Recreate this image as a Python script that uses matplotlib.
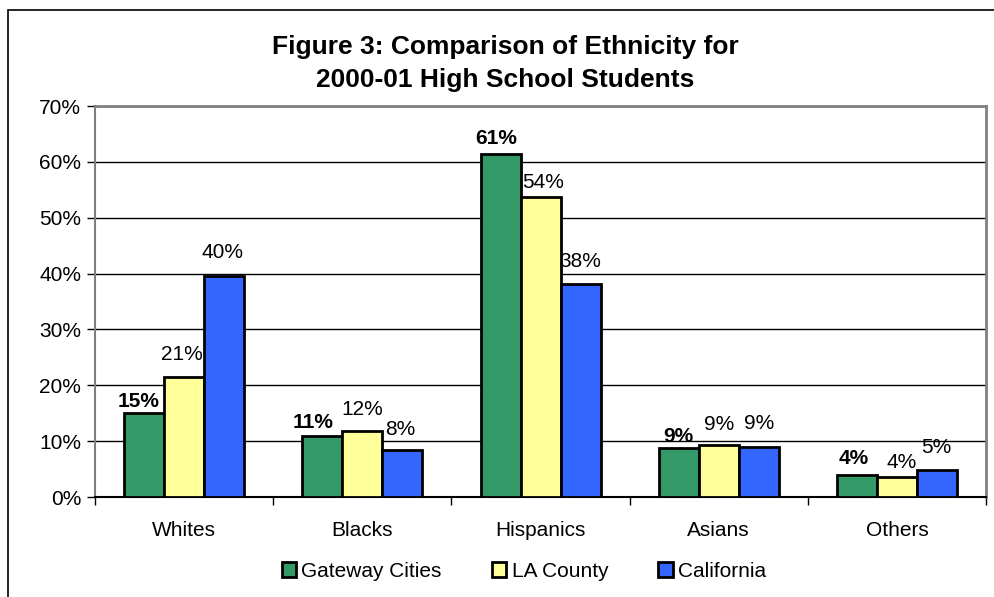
import matplotlib.pyplot as plt
import numpy as np
from matplotlib.patches import Rectangle

plt.rcParams['font.family'] = ['Liberation Sans', 'DejaVu Sans']

# data
groups = ['Whites', 'Blacks', 'Hispanics', 'Asians', 'Others']
gateway = [15.0, 10.9, 61.4, 8.7, 3.9]
la_county = [21.4, 11.8, 53.7, 9.4, 3.6]
california = [39.6, 8.4, 38.1, 9.0, 4.8]
series_names = ['Gateway Cities', 'LA County', 'California']
colors = ['#339966', '#FFFF99', '#3366FF']
yticks = [0, 10, 20, 30, 40, 50, 60, 70]

# hand-placed value labels: (dx, gap above bar) in pixels
label_dx = [[-6, -9, -4, 0, -3], [-2, 0, 3, 0, 5], [-2, -2, 0, 0, -1]]
label_gap = [[6, 8, 10, 6, 11], [17, 16, 9, 15, 9], [18, 15, 17, 18, 17]]

fig = plt.figure(figsize=(9.94, 5.97), dpi=100)
ax = fig.add_axes([0.0956, 0.1675, 0.8964, 0.6549])

# outer chart border (top and left visible)
fig.patches.append(Rectangle((8 / 994, -0.05), 1.1, (597 - 10) / 597 + 0.05,
                             transform=fig.transFigure, fill=False,
                             edgecolor='black', linewidth=1.2, zorder=0))

x = np.arange(len(groups))
w = 0.2245
all_series = [gateway, la_county, california]
px2pt = 72 / fig.dpi
for i, (vals, name, col) in enumerate(zip(all_series, series_names, colors)):
    pos = x + (i - 1) * w
    ax.bar(pos, vals, width=w, color=col, edgecolor='black', linewidth=2,
           label=name, zorder=3)
    for j, (px, v) in enumerate(zip(pos, vals)):
        ax.annotate(f'{round(v):.0f}%', (px, v),
                    xytext=(label_dx[i][j] * px2pt, label_gap[i][j] * px2pt),
                    textcoords='offset points', ha='center', va='baseline',
                    fontsize=15, fontweight='bold' if i == 0 else 'normal',
                    zorder=4)

ax.set_xlim(-0.5, len(groups) - 0.5)
ax.set_ylim(0, 70)
ax.set_yticks(yticks)
ax.set_yticklabels([f'{t}%' for t in yticks], fontsize=15)
ax.yaxis.grid(True, color='black', linewidth=1)
ax.set_axisbelow(True)

# category labels centered, ticks on category boundaries
ax.set_xticks(x)
ax.set_xticklabels(groups, fontsize=15)
ax.tick_params(axis='x', length=0, pad=17)
ax.set_xticks(np.arange(len(groups) + 1) - 0.5, minor=True)
ax.tick_params(axis='x', which='minor', length=6, width=1, direction='out')
ax.tick_params(axis='y', length=6, width=1, direction='out', pad=4)

for side in ['top', 'right']:
    ax.spines[side].set_color('#808080')
    ax.spines[side].set_linewidth(2)
ax.spines['left'].set_color('#808080')
ax.spines['left'].set_linewidth(1.5)
ax.spines['bottom'].set_color('black')
ax.spines['bottom'].set_linewidth(1.5)

fig.text(0.508, 0.894, 'Figure 3: Comparison of Ethnicity for\n2000-01 High School Students',
         ha='center', va='center', fontsize=19, fontweight='bold', linespacing=1.5)

leg = fig.legend(loc='center', bbox_to_anchor=(0.527, 0.043), ncol=3, frameon=False,
                 fontsize=15, handlelength=0.7, handleheight=0.7, handletextpad=0.25,
                 columnspacing=2.4)
for h in leg.legend_handles:
    h.set_linewidth(2)

fig.savefig('out.png', dpi=100)
